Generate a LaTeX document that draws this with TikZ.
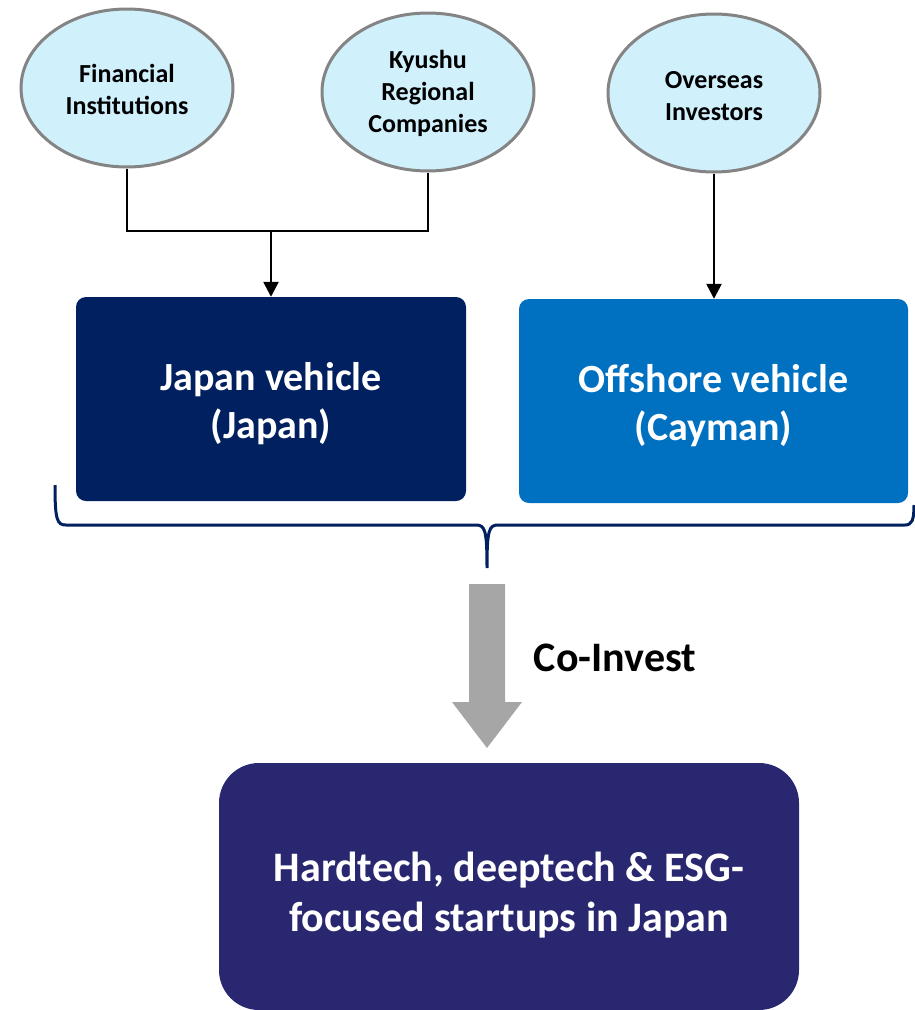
\documentclass[tikz,border=0pt]{standalone}
\usepackage{fontspec}
\setmainfont{Carlito}
\usepackage{xcolor}
\usepackage{tikz}
\usetikzlibrary{arrows.meta}
\usetikzlibrary{shapes.geometric, calc}

\definecolor{ovalfill}{HTML}{D0F0FC}
\definecolor{ovalline}{HTML}{848484}
\definecolor{navy}{HTML}{002060}
\definecolor{seablue}{HTML}{0070C0}
\definecolor{indigo}{HTML}{29276F}
\definecolor{arrowgray}{HTML}{A6A6A6}

\begin{document}
\begin{tikzpicture}[x=1pt, y=-1pt,
  investor/.style={ellipse, draw=ovalline, line width=3pt, fill=ovalfill, minimum width=212pt, minimum height=158pt},
  investortext/.style={align=center, font=\fontsize{26}{32}\selectfont\bfseries},
  vehicle/.style={rectangle, rounded corners=10pt, minimum width=390pt, minimum height=204pt},
  boxtext/.style={align=center, text=white, font=\fontsize{40}{48}\selectfont\bfseries},
  feed/.style={line width=2.5pt},
  feedarrow/.style={feed, -{Triangle[length=15pt, width=15pt]}}]
  \useasboundingbox (0,0) rectangle (915,1010);

  \node[investor] (fin) at (127,88) {};
  \node[investor] (kyu) at (428,92) {};
  \node[investor] (ovs) at (714,93) {};
  \node[investortext] (fintext) at ($(fin)+(0,1)$) {Financial\\Institutions};
  \node[investortext] (kyutext) at ($(kyu)+(0,1)$) {Kyushu\\Regional\\Companies};
  \node[investortext] (ovstext) at ($(ovs)+(0,3)$) {Overseas\\Investors};

  \node[vehicle, fill=navy] (jv) at (271,399) {};
  \node[vehicle, fill=seablue, minimum width=389pt] (ov) at (713.5,401) {};
  \node[boxtext] (jvtext) at ($(jv)+(0,5)$) {Japan vehicle\\(Japan)};
  \node[boxtext] (ovtext) at ($(ov)+(0,5)$) {Offshore vehicle\\(Cayman)};

  \coordinate (merge) at (271,231);
  \draw[feed] (fin.south) -- (fin.south |- merge) -- (kyu.south |- merge) -- (kyu.south);
  \draw[feedarrow] (merge) -- (jv.north);
  \draw[feedarrow] (ovs.south) -- (ov.north -| ovs.south);

  \draw[navy, line width=3pt] (55,485) .. controls (55,520) and (57,525) .. (66,525) -- (476,525)
    .. controls (485,525) and (487,530) .. (487,568)
    .. controls (487,530) and (489,525) .. (498,525) -- (905,525)
    .. controls (912,525) and (914,520) .. (914,505);

  \fill[arrowgray] (469,584) -- (505,584) -- (505,702) -- (522,702) -- (487,748) -- (452,702) -- (469,702) -- cycle;
  \node[font=\fontsize{42}{48}\selectfont\bfseries] (coinv) at (615,658) {Co-Invest};

  \node[rectangle, rounded corners=40pt, fill=indigo, minimum width=580pt, minimum height=247pt] (startups) at (509,886.5) {};
  \node[boxtext, font=\fontsize{42}{50}\selectfont\bfseries] (startuptext) at ($(startups)+(0,9)$) {Hardtech, deeptech \& ESG-\\focused startups in Japan};
\end{tikzpicture}
\end{document}
